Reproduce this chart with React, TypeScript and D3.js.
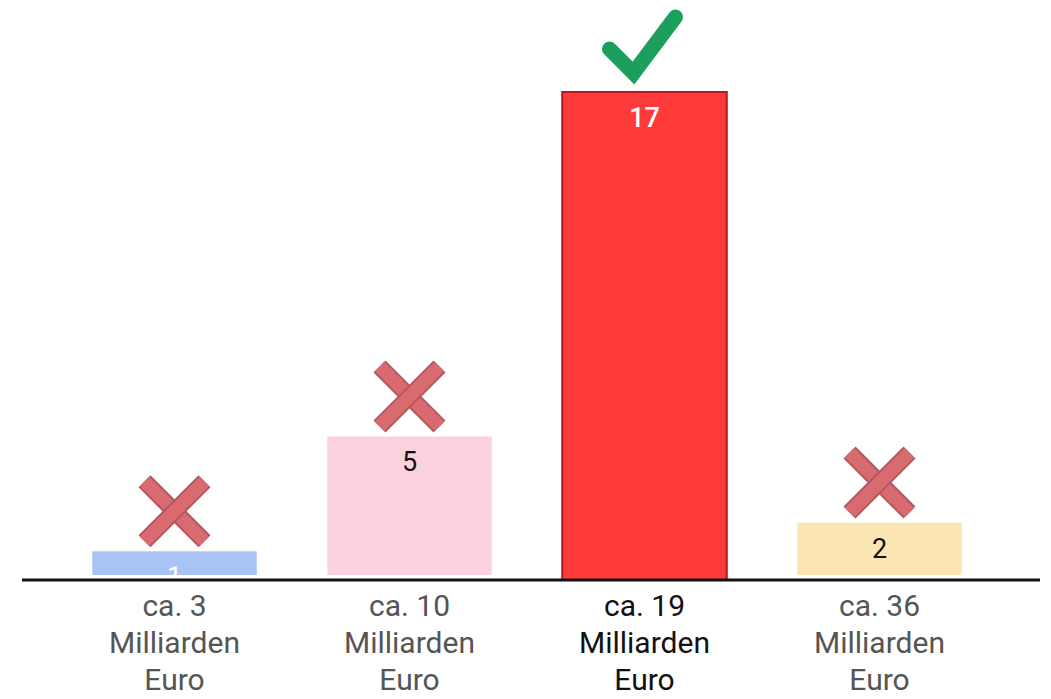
import React, { useEffect, useRef } from 'react';
import * as d3 from 'd3';

// data
const categories = ['ca. 3', 'ca. 10', 'ca. 19', 'ca. 36'];
const values = [1, 5, 17, 2];
const verdicts = ['wrong', 'wrong', 'right', 'wrong'];
const fills = ['#a9c4f4', '#fbd1de', '#ff3a3a', '#fbe6b3'];
const labelColors = ['#ffffff', '#111111', '#ffffff', '#111111'];
const subLines = ['Milliarden', 'Euro'];

const W = 1051;
const H = 699;

const App = () => {
  const svgRef = useRef(null);

  useEffect(() => {
    const svg = d3.select(svgRef.current);
    svg.selectAll('*').remove();

    const baseline = 580;
    const x = d3.scaleBand()
      .domain(categories)
      .range([57, 997])
      .paddingInner(0.3)
      .paddingOuter(0.15);
    const y = d3.scaleLinear().domain([0, 17]).range([baseline, 92]);

    const font = 'Roboto, "Open Sans", sans-serif';
    const barH = (d, i) => baseline - y(d) - (verdicts[i] === 'right' ? 0 : 5);

    // clip each value label to its own bar
    const defs = svg.append('defs');
    values.forEach((v, i) => {
      defs.append('clipPath')
        .attr('id', `bar-clip-${i}`)
        .append('rect')
        .attr('x', x(categories[i]))
        .attr('y', y(v))
        .attr('width', x.bandwidth())
        .attr('height', barH(v, i));
    });

    // bars
    svg.append('g')
      .selectAll('rect')
      .data(values)
      .join('rect')
      .attr('x', (d, i) => x(categories[i]))
      .attr('y', d => y(d))
      .attr('width', x.bandwidth())
      .attr('height', barH)
      .attr('fill', (d, i) => fills[i])
      .attr('stroke', (d, i) => verdicts[i] === 'right' ? '#b8161a' : 'none')
      .attr('stroke-width', 2);

    // value labels
    svg.append('g')
      .selectAll('text')
      .data(values)
      .join('text')
      .attr('clip-path', (d, i) => `url(#bar-clip-${i})`)
      .attr('x', (d, i) => x(categories[i]) + x.bandwidth() / 2)
      .attr('y', d => y(d) + 35)
      .attr('text-anchor', 'middle')
      .attr('font-family', font)
      .attr('font-size', 27)
      .attr('font-weight', (d, i) => verdicts[i] === 'right' ? 500 : 400)
      .attr('fill', (d, i) => labelColors[i])
      .text(d => d);

    // markers: cross or tick above each bar
    const marks = svg.append('g');
    values.forEach((v, i) => {
      const cx = x(categories[i]) + x.bandwidth() / 2;
      const top = y(v);
      if (verdicts[i] === 'right') {
        const path = d3.path();
        path.moveTo(cx - 35, top - 43);
        path.lineTo(cx - 11, top - 19);
        path.lineTo(cx + 31, top - 75);
        marks.append('path')
          .attr('d', path.toString())
          .attr('fill', 'none')
          .attr('stroke', '#1c9e5c')
          .attr('stroke-width', 15)
          .attr('stroke-linejoin', 'miter')
          .attr('stroke-linecap', 'round');
      } else {
        const cy = top - 40;
        const r = 30;
        [[-1, -1, 1, 1], [1, -1, -1, 1]].forEach(([a, b, c, e]) => {
          marks.append('line')
            .attr('x1', cx + a * r).attr('y1', cy + b * r)
            .attr('x2', cx + c * r).attr('y2', cy + e * r)
            .attr('stroke', '#b4575c')
            .attr('stroke-width', 17);
          marks.append('line')
            .attr('x1', cx + a * r).attr('y1', cy + b * r)
            .attr('x2', cx + c * r).attr('y2', cy + e * r)
            .attr('stroke', '#d96b70')
            .attr('stroke-width', 13);
        });
      }
    });

    // baseline
    svg.append('line')
      .attr('x1', 22).attr('x2', 1040)
      .attr('y1', baseline).attr('y2', baseline)
      .attr('stroke', '#111')
      .attr('stroke-width', 3);

    // category labels
    const lab = svg.append('g')
      .selectAll('text')
      .data(categories)
      .join('text')
      .attr('text-anchor', 'middle')
      .attr('font-family', font)
      .attr('font-size', 30)
      .attr('fill', (d, i) => verdicts[i] === 'right' ? '#111' : '#555')
      .attr('font-weight', 400);
    lab.each(function (d, i) {
      const cx = x(d) + x.bandwidth() / 2;
      const t = d3.select(this);
      [d, ...subLines].forEach((line, k) => {
        t.append('tspan')
          .attr('x', cx)
          .attr('y', 616 + k * 37)
          .text(line);
      });
    });
  }, []);

  return (
    <svg
      ref={svgRef}
      width={W}
      height={H}
      style={{ position: 'absolute', left: 0, top: 0, background: '#fff' }}
    />
  );
};

export default App;
